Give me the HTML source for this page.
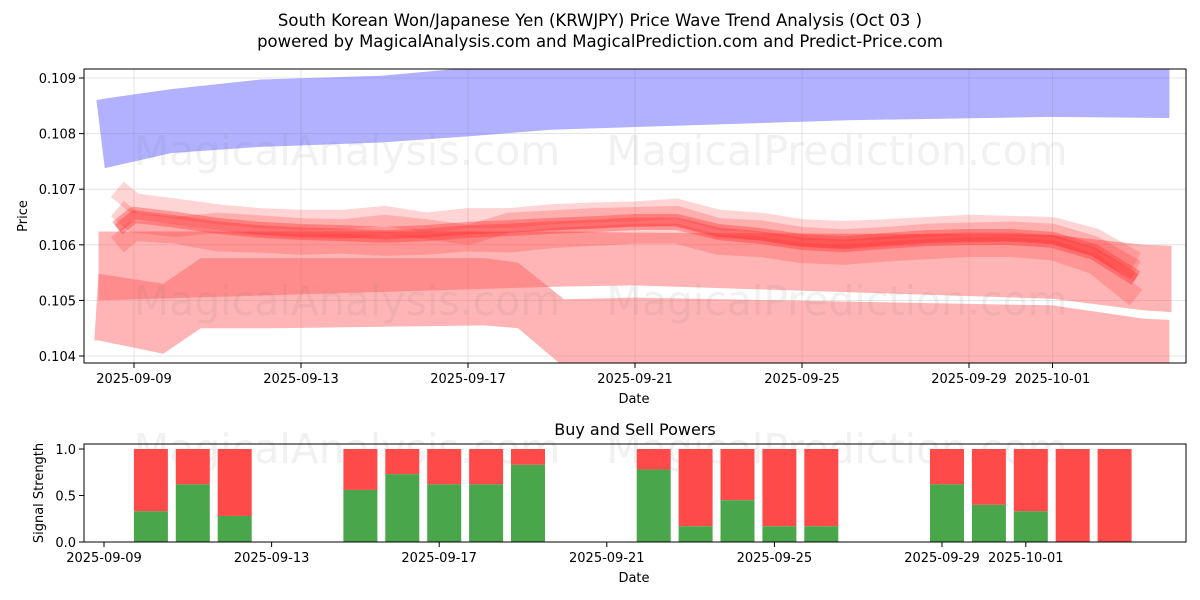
<!DOCTYPE html>
<html><head><meta charset="utf-8"><style>
body{margin:0;background:#fff;}
svg{display:block;font-family:"DejaVu Sans","Liberation Sans",sans-serif;}
</style></head><body>
<svg id="chart" width="1200" height="600" xmlns="http://www.w3.org/2000/svg">
<defs>
<clipPath id="clipTop"><rect x="84" y="69" width="1102" height="294"/></clipPath>
<clipPath id="clipBot"><rect x="84" y="444" width="1102" height="98"/></clipPath>
</defs>
<text x="600" y="26" text-anchor="middle" font-size="16.5">South Korean Won/Japanese Yen (KRWJPY) Price Wave Trend Analysis (Oct 03 )</text>
<text x="600" y="47" text-anchor="middle" font-size="16.5">powered by MagicalAnalysis.com and MagicalPrediction.com and Predict-Price.com</text>
<g id="topPanel"></g>
<g id="botPanel"></g>
</svg>
<script>
const NS="http://www.w3.org/2000/svg";
// ---- data ----
const tickDays=[0,4,8,12,16,20,22];
const tickLabels=["2025-09-09","2025-09-13","2025-09-17","2025-09-21","2025-09-25","2025-09-29","2025-10-01"];
const priceTicks=[0.104,0.105,0.106,0.107,0.108,0.109];
const blueDays=[-0.9,-0.7,0.9,3,5.9,8,10,17.1,21.9,24.8];
const blueUpper=[0.10860,0.10863,0.10880,0.10897,0.10904,0.10918,0.10925,0.10930,0.10930,0.10930];
const blueLower=[0.10860,0.10738,0.10765,0.10776,0.10784,0.10795,0.10807,0.10824,0.10830,0.10828];
const bandADays=[-0.85,10.3,12,22,24.2,24.85];
const bandAUpper=[0.10624,0.10624,0.10622,0.10618,0.10600,0.10598];
const bandALower=[0.10500,0.10525,0.10527,0.10503,0.10482,0.10479];
const bandBDays=[-0.95,-0.85,0.7,1.6,3.4,8.4,9.2,10.3,12,22,24.2,24.8];
const bandBUpper=[0.10428,0.10548,0.10530,0.10576,0.10576,0.10576,0.10568,0.10502,0.10505,0.10491,0.10467,0.10465];
const bandBLower=[0.10428,0.10428,0.10404,0.10450,0.10450,0.10455,0.10450,0.10380,0.10380,0.10380,0.10380,0.10380];
const waveDays=[-0.4,0,1,2,3,4,5,6,7,8,9,10,11,12,13,14,15,16,17,18,19,20,21,22,23,24];
const waveCore=[0.10630,0.10654,0.10645,0.10634,0.10627,0.10623,0.10621,0.10618,0.10621,0.10627,0.10630,0.10634,0.10637,0.10641,0.10641,0.10623,0.10616,0.10605,0.10601,0.10607,0.10612,0.10614,0.10614,0.10609,0.10587,0.10540];
const waveHigh=[0.10700,0.10675,0.10665,0.10655,0.10648,0.10645,0.10645,0.10652,0.10640,0.10648,0.10648,0.10655,0.10658,0.10660,0.10665,0.10645,0.10640,0.10628,0.10625,0.10628,0.10632,0.10636,0.10634,0.10632,0.10612,0.10570];
const waveLow=[0.10600,0.10625,0.10620,0.10606,0.10604,0.10600,0.10602,0.10598,0.10600,0.10606,0.10604,0.10612,0.10616,0.10620,0.10620,0.10600,0.10596,0.10585,0.10582,0.10588,0.10592,0.10596,0.10596,0.10590,0.10565,0.10505];
const waveMid=[0.10665,0.10640,0.10632,0.10640,0.10635,0.10630,0.10628,0.10636,0.10628,0.10618,0.10640,0.10644,0.10648,0.10650,0.10652,0.10630,0.10626,0.10614,0.10610,0.10614,0.10620,0.10622,0.10624,0.10620,0.10598,0.10555];
const barDays=[1,2,3,6,7,8,9,10,13,14,15,16,17,20,21,22,23,24];
const buyVals=[0.33,0.62,0.28,0.56,0.73,0.62,0.62,0.83,0.78,0.17,0.45,0.17,0.17,0.62,0.40,0.33,0,0];
// ---- scales ----
const X=d=>134+d*41.75;
const Y=p=>78+(0.109-p)*55600;
const XB=d=>104+d*41.9;
const YB=v=>542-v*93;
function el(tag,attrs,parent,text){const e=document.createElementNS(NS,tag);for(const k in attrs)e.setAttribute(k,attrs[k]);if(text!==undefined)e.textContent=text;parent.appendChild(e);return e;}
const topG=document.getElementById('topPanel'), botG=document.getElementById('botPanel');
tickDays.forEach((d,i)=>{const g=el('line',{x1:X(d),x2:X(d),y1:69,y2:363,stroke:'#ddd','stroke-width':0.8},topG);

});
priceTicks.forEach(p=>{const g=el('line',{x1:84,x2:1186,y1:Y(p),y2:Y(p),stroke:'#ddd','stroke-width':0.8},topG);

});
const wm=[[347,150,'MagicalAnalysis.com'],[837,150,'MagicalPrediction.com'],[347,300,'MagicalAnalysis.com'],[837,300,'MagicalPrediction.com'],[347,448,'MagicalAnalysis.com'],[837,448,'MagicalPrediction.com']];
const plot=el('g',{'clip-path':'url(#clipTop)'},topG);
function band(days,up,lo,fill,name){let pts=days.map((d,i)=>X(d)+','+Y(up[i]));for(let i=days.length-1;i>=0;i--)pts.push(X(days[i])+','+Y(lo[i]));
const p=el('polygon',{points:pts.join(' '),fill:fill},plot);

}
band(blueDays,blueUpper,blueLower,'rgba(100,100,255,0.5)','blue-band');
band(bandADays,bandAUpper,bandALower,'rgba(255,90,90,0.45)','upper-pink-band');
band(bandBDays,bandBUpper,bandBLower,'rgba(255,90,90,0.45)','lower-pink-band');
[[waveHigh,20,0.2],[waveLow,20,0.22],[waveMid,20,0.22],[waveCore,16,0.35],[waveCore,9,0.35]].forEach(([s,w,a])=>{
const p=el('polyline',{points:waveDays.map((d,i)=>X(d)+','+Y(s[i])).join(' '),fill:'none',stroke:'rgba(255,40,40,'+a+')','stroke-width':w,'stroke-linejoin':'round'},plot);

});
wm.slice(0,4).forEach(w=>{const t=el('text',{x:w[0],y:w[1]+15,'text-anchor':'middle','font-size':41,fill:'rgba(120,120,120,0.1)'},topG,w[2]);

});
el('rect',{x:84,y:69,width:1102,height:294,fill:'none',stroke:'#000','stroke-width':1},topG);
tickDays.forEach((d,i)=>{el('line',{x1:X(d),x2:X(d),y1:363,y2:368,stroke:'#000'},topG);
const t=el('text',{x:X(d),y:383,'text-anchor':'middle','font-size':13},topG,tickLabels[i]);

});
priceTicks.forEach(p=>{el('line',{x1:79,x2:84,y1:Y(p),y2:Y(p),stroke:'#000'},topG);
const t=el('text',{x:76,y:Y(p)+5,'text-anchor':'end','font-size':13},topG,p.toFixed(3));

});
let t1=el('text',{x:634,y:403,'text-anchor':'middle','font-size':13},topG,'Date');


let t2=el('text',{x:27,y:216,'text-anchor':'middle','font-size':13,transform:'rotate(-90 27 216)'},topG,'Price');


let t3=el('text',{x:635,y:435,'text-anchor':'middle','font-size':16},botG,'Buy and Sell Powers');


wm.slice(4).forEach(w=>{const t=el('text',{x:w[0],y:w[1]+15,'text-anchor':'middle','font-size':41,fill:'rgba(120,120,120,0.1)'},botG,w[2]);

});
const bp=el('g',{'clip-path':'url(#clipBot)'},botG);
barDays.forEach((d,i)=>{const cx=XB(d)+5,w=34;
const s=el('rect',{x:cx-w/2,y:YB(1),width:w,height:YB(buyVals[i])-YB(1),fill:'#ff4a4a'},bp);


const b=el('rect',{x:cx-w/2,y:YB(buyVals[i]),width:w,height:YB(0)-YB(buyVals[i]),fill:'#4aa64a'},bp);

});
el('rect',{x:84,y:444,width:1102,height:98,fill:'none',stroke:'#000','stroke-width':1},botG);
tickDays.forEach((d,i)=>{el('line',{x1:XB(d),x2:XB(d),y1:542,y2:547,stroke:'#000'},botG);
const t=el('text',{x:XB(d),y:562,'text-anchor':'middle','font-size':13},botG,tickLabels[i]);

});
[0,0.5,1].forEach(v=>{el('line',{x1:79,x2:84,y1:YB(v),y2:YB(v),stroke:'#000'},botG);
const t=el('text',{x:76,y:YB(v)+5,'text-anchor':'end','font-size':13},botG,v.toFixed(1));

});
let t4=el('text',{x:634,y:582,'text-anchor':'middle','font-size':13},botG,'Date');


let t5=el('text',{x:43,y:493,'text-anchor':'middle','font-size':13,transform:'rotate(-90 43 493)'},botG,'Signal Strength');


</script>
</body></html>
